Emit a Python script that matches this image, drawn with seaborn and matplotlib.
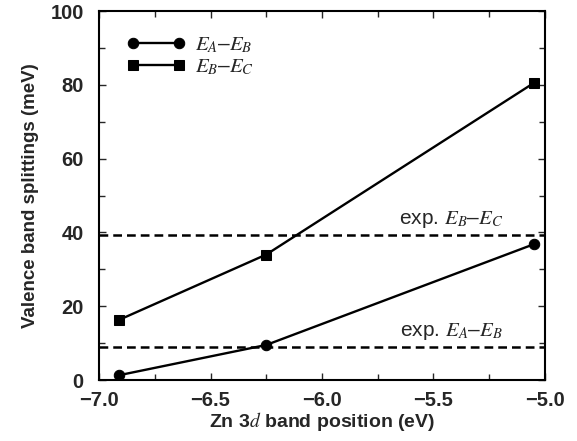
import matplotlib.pyplot as plt
from matplotlib.ticker import MultipleLocator
import seaborn as sns
import pandas as pd

sns.set_style("ticks")
plt.rcParams['font.family'] = ['Liberation Sans', 'DejaVu Sans']
plt.rcParams['mathtext.fontset'] = 'stix'

# dados
posicao_zn3d = [-6.91, -6.25, -5.05]
split_ab = [1.3, 9.5, 36.8]
split_bc = [16.3, 34.0, 80.5]
exp_ab = 8.9
exp_bc = 39.4

df = pd.DataFrame({'x': posicao_zn3d, 'ab': split_ab, 'bc': split_bc})

fig = plt.figure(figsize=(5.77, 4.41), dpi=100)
ax = fig.add_axes([0.1716, 0.1383, 0.9445 - 0.1716, 0.975 - 0.1383])

sns.lineplot(data=df, x='x', y='ab', ax=ax, color='black', lw=1.7,
             marker='o', markersize=7.5, markeredgecolor='black',
             label=r'$E_A$–$E_B$')
sns.lineplot(data=df, x='x', y='bc', ax=ax, color='black', lw=1.7,
             marker='s', markersize=7, markeredgecolor='black',
             label=r'$E_B$–$E_C$')

# linhas experimentais
ax.axhline(exp_ab, color='black', lw=1.8, ls=(0, (3.5, 2)))
ax.axhline(exp_bc, color='black', lw=1.8, ls=(0, (3.5, 2)))
ax.text(-5.42, exp_ab + 1.3, r'exp. $E_A$–$E_B$', fontsize=15, ha='center', va='bottom')
ax.text(-5.42, exp_bc + 1.3, r'exp. $E_B$–$E_C$', fontsize=15, ha='center', va='bottom')

ax.set_xlim(-7.0, -5.0)
ax.set_ylim(0, 100)
ax.xaxis.set_major_locator(MultipleLocator(0.5))
ax.xaxis.set_minor_locator(MultipleLocator(0.25))
ax.yaxis.set_major_locator(MultipleLocator(20))
ax.yaxis.set_minor_locator(MultipleLocator(10))
ax.xaxis.set_major_formatter(plt.FuncFormatter(lambda v, _: f'{v:.1f}'.replace('-', '\u2212')))

ax.tick_params(which='both', direction='in', top=True, right=True, labelsize=14.5, width=1)
ax.tick_params(which='major', length=5)
ax.tick_params(which='minor', length=4)
ax.tick_params(axis='x', which='major', pad=8)
ax.tick_params(axis='y', which='major', pad=11)
for lbl in ax.get_xticklabels() + ax.get_yticklabels():
    lbl.set_fontweight('bold')
for s in ax.spines.values():
    s.set_linewidth(1.5)
    s.set_color('black')

ax.set_xlabel(r'Zn 3$d$ band position (eV)', fontsize=14, fontweight='bold', labelpad=0)
ax.set_ylabel('Valence band splittings (meV)', fontsize=13.5, fontweight='bold', labelpad=8)

leg = ax.legend(loc='upper left', bbox_to_anchor=(0.02, 0.985), numpoints=2, frameon=False,
                fontsize=15, handlelength=2.8, handletextpad=0.5, labelspacing=0.1)

fig.savefig('out.png', dpi=100)
